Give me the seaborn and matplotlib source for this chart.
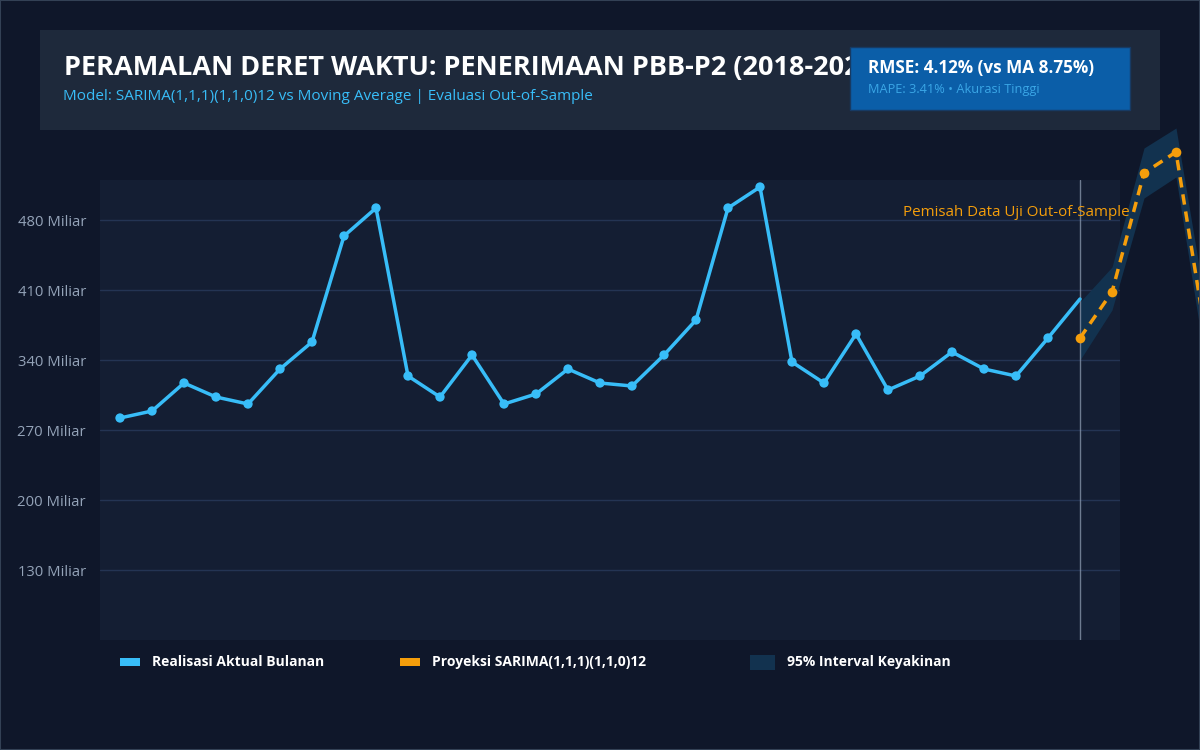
import numpy as np
import pandas as pd
import seaborn as sns
import matplotlib.pyplot as plt
from matplotlib.patches import Rectangle, FancyBboxPatch

# data (Miliar rupiah)
aktual = [282, 289, 317, 303, 296, 331, 358, 464, 492, 324,
          303, 345, 296, 306, 331, 317, 314, 345, 380, 492,
          513, 338, 317, 366, 310, 324, 348, 331, 324, 362, 401]
proyeksi = [362, 408, 527, 548, 350]
batas_bawah = [340, 390, 502, 523, 320]
batas_atas = [398, 433, 552, 572, 380]
yticks = [130, 200, 270, 340, 410, 480]

df_akt = pd.DataFrame({'t': np.arange(len(aktual)), 'nilai': aktual})
t0 = len(aktual) - 1
df_proj = pd.DataFrame({'t': np.arange(t0, t0 + len(proyeksi)), 'nilai': proyeksi,
                        'lo': batas_bawah, 'hi': batas_atas})

BG = '#0f172a'
PANEL = '#1e293b'
BLUE = '#38bdf8'
ORANGE = '#f59e0b'
BAND = '#12324f'

sns.set_theme(style='dark')
plt.rcParams['font.family'] = ['Open Sans', 'DejaVu Sans']

fig = plt.figure(figsize=(12, 7.5), dpi=100, facecolor=BG)

# header panel
fig.patches.append(Rectangle((40 / 1200, 1 - 130 / 750), 1120 / 1200, 100 / 750,
                             transform=fig.transFigure, facecolor=PANEL, edgecolor='none', zorder=0))
fig.text(64 / 1200, 1 - 68 / 750, 'PERAMALAN DERET WAKTU: PENERIMAAN PBB-P2 (2018-2024)',
         color='white', fontsize=19.5, fontweight='bold', va='center', zorder=1)
fig.text(63 / 1200, 1 - 97 / 750,
         'Model: SARIMA(1,1,1)(1,1,0)12 vs Moving Average | Evaluasi Out-of-Sample',
         color=BLUE, fontsize=11, va='center', zorder=1)

# RMSE badge
fig.patches.append(FancyBboxPatch((850 / 1200, 1 - 110 / 750), 280 / 1200, 63 / 750,
                                  boxstyle='square,pad=0', transform=fig.transFigure,
                                  facecolor='#0b5ea8', edgecolor='#173a63', lw=1, zorder=3))
fig.text(868 / 1200, 1 - 68 / 750, 'RMSE: 4.12% (vs MA 8.75%)', color='white',
         fontsize=12.3, fontweight='bold', va='center', zorder=4)
fig.text(868 / 1200, 1 - 89 / 750, 'MAPE: 3.41% \u2022 Akurasi Tinggi', color='#3aa6e6',
         fontsize=9.2, va='center', zorder=4)

# main axes
ax = fig.add_axes([100 / 1200, 1 - 640 / 750, 1020 / 1200, 460 / 750])
ax.set_facecolor('#141e33')
for s in ax.spines.values():
    s.set_visible(False)

ax.fill_between(df_proj['t'], df_proj['lo'], df_proj['hi'], color=BAND, lw=0,
                clip_on=False, zorder=2)
sns.lineplot(data=df_akt, x='t', y='nilai', ax=ax, color=BLUE, lw=2.5, zorder=4)
sns.scatterplot(data=df_akt.iloc[:-1], x='t', y='nilai', ax=ax, color=BLUE, s=45,
                edgecolor='none', zorder=5)
sns.lineplot(data=df_proj, x='t', y='nilai', ax=ax, color=ORANGE, lw=2.5,
             linestyle=(0, (3, 2)), marker='o', markersize=7, markeredgewidth=0,
             clip_on=False, zorder=6)

ax.axvline(t0, color='#94a3b8', lw=1, alpha=0.7, zorder=3)
ax.text(31.56, 488, 'Pemisah Data Uji Out-of-Sample', color=ORANGE, fontsize=10.9,
        ha='right', va='center', clip_on=False, zorder=7)

ax.set_xlim(-0.625, 31.25)
ax.set_ylim(60, 520)
ax.set_yticks(yticks)
ax.set_yticklabels([f'{v} Miliar' for v in yticks], color='#94a3b8', fontsize=10.7)
ax.set_xticks([])
ax.tick_params(axis='y', length=0, pad=10)
ax.grid(axis='y', color='#243453', lw=1)
ax.set_xlabel('')
ax.set_ylabel('')
if ax.get_legend():
    ax.get_legend().remove()

# legend row
items = [(120, 152, 20, 8, BLUE, 'Realisasi Aktual Bulanan'),
         (400, 432, 20, 8, ORANGE, 'Proyeksi SARIMA(1,1,1)(1,1,0)12'),
         (750, 787, 25, 15, BAND, '95% Interval Keyakinan')]
for x0, xt, w, h, c, lab in items:
    fig.patches.append(Rectangle((x0 / 1200, 1 - (662 + h / 2) / 750), w / 1200, h / 750,
                                 transform=fig.transFigure, facecolor=c, edgecolor='none'))
    fig.text(xt / 1200, 1 - 662 / 750, lab, color='white', fontsize=10,
             fontweight='bold', va='center')

fig.patches.append(Rectangle((0, 0), 1, 1, transform=fig.transFigure, fill=False,
                             edgecolor='#334155', lw=1.5))

fig.savefig('out.png', dpi=100, facecolor=BG)
